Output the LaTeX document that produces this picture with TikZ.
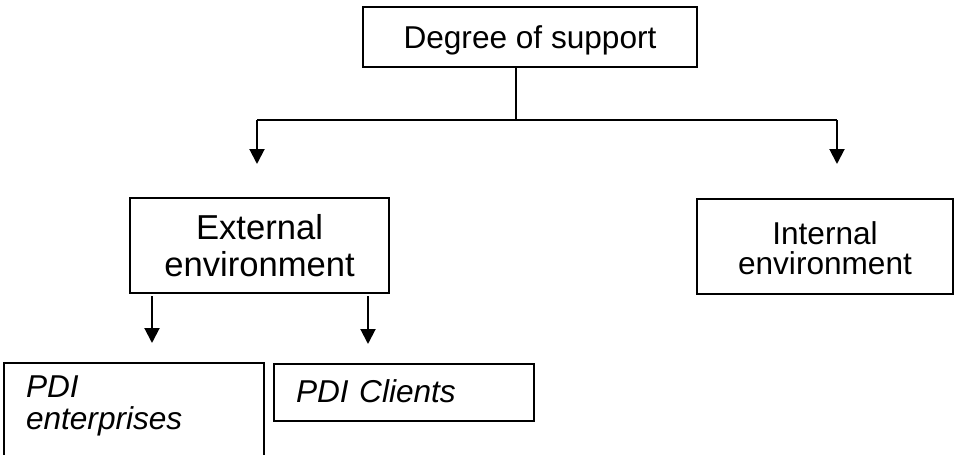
\documentclass[tikz,border=0pt]{standalone}
\usepackage{fontspec}
\setmainfont{Liberation Sans}
\usetikzlibrary{arrows.meta,positioning}

\begin{document}
\begin{tikzpicture}[x=0.5pt,y=-0.5pt,line width=1pt,
  >={Triangle[width=7.5pt,length=7.5pt]},
  main node/.style={rectangle,draw,font=\fontsize{15.8}{15}\selectfont,align=center,inner sep=0pt},
  sub node/.style={rectangle,draw,font=\fontsize{15.8}{16}\selectfont\itshape,align=left,
    text width=108pt,inner xsep=11pt,anchor=north west}]

  \useasboundingbox (0,0) rectangle (955,455);

  \node[main node,minimum width=167pt,minimum height=30pt,text depth=0pt] (0) at (530,37) {Degree of support};
  \node[main node,minimum width=129.5pt,minimum height=47.5pt,font=\fontsize{17.3}{18.5}\selectfont] (1) at (259.5,245.5) {External\\environment};
  \node[main node,minimum width=128pt,minimum height=47.5pt,text height=28.5pt] (2) at (825,246.5) {Internal\\environment};
  \node[sub node,inner ysep=6.5pt,text depth=30pt] (3) at (3,362) {PDI\\enterprises};
  \node[sub node,inner ysep=8pt,text depth=1pt] (4) at (273,363) {PDI Clients};

  \coordinate (split) at (516,120);
  \coordinate (left) at (257,120);
  \coordinate (right) at (837,120);
  \coordinate (a) at (152,0);
  \coordinate (b) at (368,0);

  \draw (0.south -| split) -- (split);
  \draw (left) -- (right);
  \draw[->,shorten >=16.5pt] (left) -- (left |- 1.north);
  \draw[->,shorten >=17pt] (right) -- (right |- 2.north);
  \draw[->,shorten <=1pt,shorten >=9.5pt] (1.south -| a) -- (3.north -| a);
  \draw[->,shorten <=1pt,shorten >=9.5pt] (1.south -| b) -- (4.north -| b);

\end{tikzpicture}
\end{document}
